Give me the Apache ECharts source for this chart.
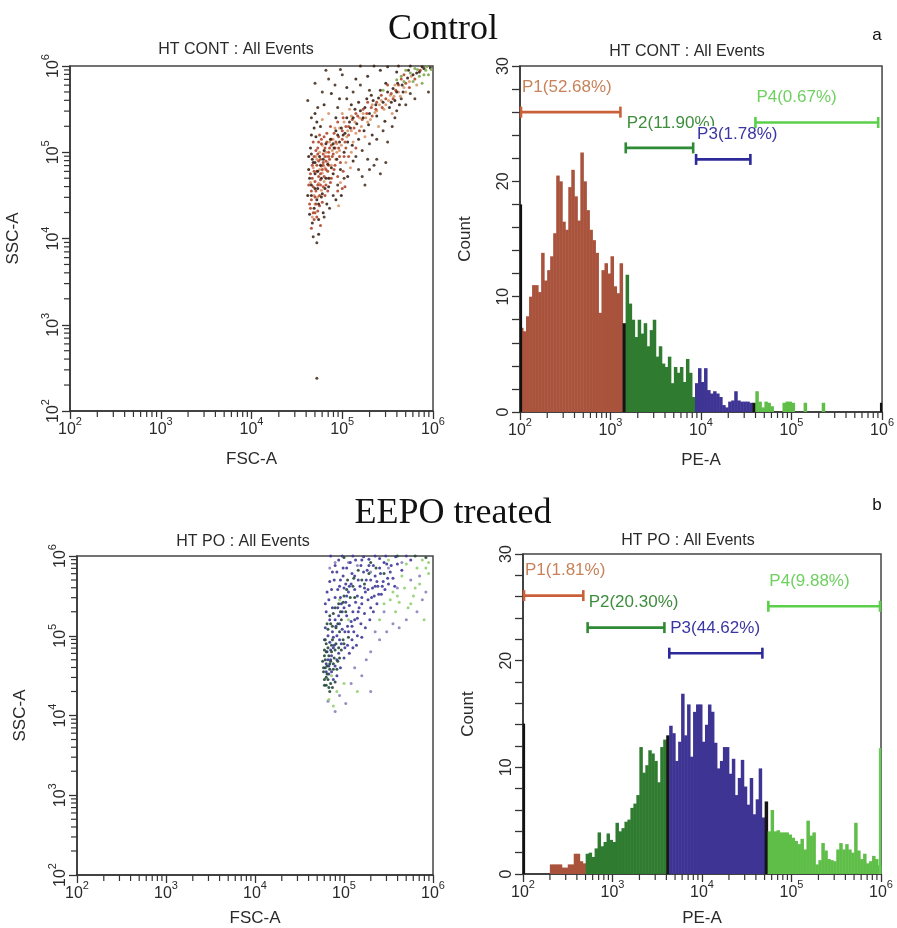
<!DOCTYPE html>
<html><head><meta charset="utf-8">
<script src="https://cdn.jsdelivr.net/npm/echarts@6/dist/echarts.min.js"></script>
<style>html,body{margin:0;padding:0;background:#fff}#c{width:897px;height:928px}</style>
</head><body><div id="c"></div>
<script>
// ---------------- DATA ----------------
const decadeExponents = [2, 3, 4, 5, 6];
const minorMultipliers = [2, 3, 4, 5, 6, 7, 8, 9];
const countTicks = [0, 10, 20, 30];
const binsPerDecade = 30;

// Control (HT CONT) PE-A histogram, 30 bins per decade from 10^2
const ctlCounts = [
 7.3,7.0,8.3,10.0,11.0,11.0,10.4,13.8,11.4,12.3,
 13.5,15.5,20.5,20.0,16.5,15.8,19.5,21.0,18.7,16.6,
 22.5,20.0,17.5,15.8,14.9,13.8,8.6,12.3,12.9,12.0,
 13.5,10.9,10.3,12.9,7.7,11.9,9.4,8.0,6.5,8.0,
 6.8,7.7,5.7,7.1,8.0,4.8,5.7,4.2,3.9,4.8,
 2.5,3.9,3.4,3.9,2.6,4.6,3.4,1.3,2.5,3.8,
 2.6,3.8,1.9,1.6,1.8,1.6,1.3,0.6,0.4,0.9,
 1.0,1.8,1.0,0.9,0.9,0.9,0.8,0.8,1.8,0.9,
 0.4,0.9,0.8,0.5,0,0,0,0.8,0.9,0.9,
 0.8,0,0,0,0.8,0,0,0,0,0,
 0.8,0,0,0,0,0,0,0,0,0,
 0,0,0,0,0,0,0,0,0,0
];
// EEPO treated (HT PO) PE-A histogram
const poCounts = [
 0,0,0,0,0,0,0,0,0,0.9,
 0.9,0.9,0.9,0.6,0.6,0.9,0.9,1.9,1.9,1.2,
 1.0,1.9,2.0,1.6,2.4,3.9,2.6,3.0,3.8,3.2,
 3.0,4.8,4.0,4.3,4.9,5.1,6.2,6.6,7.4,11.9,
 9.5,10.2,11.6,11.3,10.6,8.6,11.9,12.6,13.0,13.9,
 13.2,10.6,12.4,16.9,13.0,15.9,11.0,15.2,15.9,15.9,
 12.4,14.0,15.9,15.2,12.3,9.9,10.6,11.9,11.9,9.4,
 10.8,7.4,9.0,10.7,8.2,6.5,9.0,5.6,7.0,9.9,
 5.3,6.8,4.0,6.0,4.0,4.1,3.9,3.9,3.9,3.7,
 3.4,3.1,2.8,3.3,2.3,5.0,3.6,3.9,0.9,1.3,
 2.9,2.2,1.4,1.3,1.2,2.3,2.9,2.3,2.8,2.3,
 2.0,4.8,2.2,1.4,1.9,1.0,1.2,1.7,1.4,0.8
];
// off-scale events piled at the axis edges [at 10^2, at 10^6]
const ctlEdgeCounts = [18.0, 0.8];
const poEdgeCounts = [14.1, 11.8];

// Gates
const gateNames = ['P1', 'P2', 'P3', 'P4'];
const ctlGatePct = ['52.68%', '11.90%', '1.78%', '0.67%'];
const ctlGateLo = [100, 1436, 8600, 38900];
const ctlGateHi = [1320, 8400, 36000, 930000];
const ctlGateLevel = [26.0, 22.9, 21.9, 25.1];
const poGatePct = ['1.81%', '20.30%', '44.62%', '9.88%'];
const poGateLo = [100, 514, 4200, 53700];
const poGateHi = [484, 3900, 48500, 1000000];
const poGateLevel = [26.1, 23.1, 20.7, 25.1];

// Scatter events, [log10 FSC-A, log10 SSC-A]
const ctlDarkEvents = [[4.66,4.62],[4.70,4.75],[4.73,4.58],[4.68,4.88],[4.75,4.95],[4.80,5.02],[4.84,4.86],[4.77,4.70],[4.72,4.45],[4.69,4.35],[4.82,5.10],[4.87,5.15],[4.91,5.05],[4.95,5.20],[4.99,5.28],[5.03,5.22],[5.08,5.35],[5.12,5.40],[5.16,5.33],[5.20,5.48],[5.25,5.52],[5.30,5.45],[5.34,5.60],[5.40,5.63],[5.45,5.58],[5.50,5.70],[5.56,5.74],[5.61,5.80],[5.66,5.78],[5.72,5.86],[5.78,5.90],[5.85,5.93],[5.90,5.97],[4.64,4.28],[4.67,4.18],[4.74,4.22],[4.62,4.50],[4.65,5.05],[4.71,5.18],[4.76,5.30],[4.70,5.45],[4.80,5.55],[4.88,5.68],[4.93,5.40],[4.97,5.62],[5.05,5.75],[5.10,5.55],[5.15,5.85],[4.85,4.60],[4.90,4.75],[4.94,4.92],[4.98,4.80],[5.02,5.00],[5.06,5.12],[5.11,5.08],[5.18,5.15],[5.24,5.25],[5.29,5.32],[5.33,5.20],[5.38,5.42],[5.47,5.36],[5.52,5.52],[5.58,5.60],[5.63,5.55],[4.63,4.80],[4.66,4.98],[4.78,4.52],[4.83,4.40],[4.74,4.05],[4.79,4.30],[5.20,6.00],[5.35,6.00],[5.50,5.99],[5.62,6.00],[5.75,6.00],[5.88,5.99],[5.97,5.98],[5.42,5.95],[5.28,5.88],[5.60,5.93],
 [4.64,4.70],[4.67,4.92],[4.70,4.88],[4.73,4.78],[4.76,4.85],[4.79,4.92],[4.82,4.70],[4.85,4.70],[4.88,4.82],[4.90,5.10],[4.93,5.25],[4.97,5.12],[5.01,5.20],[5.05,5.40],[5.09,5.28],[5.14,5.50],[5.18,5.58],[5.23,5.40],[5.27,5.62],[5.32,5.66],[5.37,5.55],[5.42,5.72],[5.48,5.80],[5.54,5.58],[5.60,5.70],[5.67,5.70],[5.73,5.95],[5.82,5.92],[4.66,4.50],[4.70,4.58],[4.74,4.40],[4.77,4.48],[4.81,4.58],[4.63,4.95],[4.66,5.20],[4.69,5.28],[4.72,5.35],
 [4.99,4.50],[5.06,4.72],[4.93,4.45],[5.12,4.90]];
const ctlRedEvents = [[4.72,4.85],[4.76,4.92],[4.79,4.98],[4.82,4.90],[4.78,4.80],[4.74,4.72],[4.70,4.66],[4.81,5.05],[4.85,5.00],[4.88,5.08],[4.73,4.98],[4.69,4.78],[4.67,4.70],[4.76,4.62],[4.80,4.72],[4.84,4.78],[4.86,4.92],[4.90,4.98],[4.93,5.12],[4.96,5.05],[5.00,5.15],[5.04,5.30],[5.07,5.20],[5.13,5.28],[5.17,5.42],[5.22,5.38],[5.27,5.45],[5.32,5.52],[5.37,5.50],[5.43,5.66],[5.48,5.62],[5.54,5.68],[5.59,5.72],[5.65,5.85],[5.70,5.80],[4.75,4.50],[4.71,4.55],[4.66,4.45],[4.70,4.30],[4.64,4.40],[4.77,5.10],[4.73,5.05],[4.68,5.12],[4.83,5.22],[4.75,5.20],[4.87,5.30],[4.91,5.22],[4.95,5.35],[5.01,5.40],[4.82,4.62],[4.88,4.70],[4.92,4.85],[4.97,4.95],[5.04,5.05],[4.79,4.88],[4.77,4.84],[4.81,4.95],[4.74,4.90],[4.85,4.85],[4.72,4.78],[4.76,4.68],[4.79,4.60],[4.68,4.60],[4.66,4.55],[4.71,4.40],[4.73,4.32],[4.69,4.22],[4.76,4.15],[4.66,4.12],
 [4.63,4.62],[4.65,4.75],[4.67,4.85],[4.69,4.95],[4.71,5.02],[4.74,5.12],[4.77,5.15],[4.80,5.18],[4.83,5.12],[4.86,5.05],[4.89,4.95],[4.91,4.80],[4.87,4.65],[4.84,4.55],[4.81,4.50],[4.78,4.42],[4.75,4.38],[4.72,4.25],[4.68,4.30],[4.65,4.35],[4.70,4.48],[4.73,4.62],[4.76,4.75],[4.79,4.85],[4.82,4.80],[4.85,4.95],[4.88,5.15],[4.92,5.05],[4.96,5.18],[5.00,5.25],[5.03,5.12],[5.07,5.30],[5.11,5.38],[5.15,5.45],[5.19,5.25],[5.23,5.50],[5.28,5.58],[5.33,5.42],[5.38,5.58],[5.44,5.52],[5.50,5.78],[5.56,5.62],[5.62,5.78],[5.68,5.90],[5.74,5.75],[5.80,5.85],[5.86,5.95],[4.98,4.88],[5.02,4.95],[4.95,4.72],
 [4.95,4.55],[5.01,4.78],[5.07,4.95],[5.03,4.60],[5.00,4.58],[5.15,5.05]];
const ctlOrangeEvents = [[4.78,4.76],[4.83,4.95],[4.89,5.02],[4.94,5.10],[4.99,5.08],[5.05,5.18],[5.10,5.25],[5.15,5.22],[5.21,5.30],[5.26,5.40],[5.31,5.38],[5.36,5.46],[5.41,5.55],[5.46,5.50],[5.51,5.60],[5.57,5.65],[5.62,5.70],[5.68,5.75],[5.74,5.82],[4.71,4.95],[4.75,4.80],[4.81,4.82],[4.86,4.70],[4.74,4.64],[4.69,4.50],[4.86,5.12],[4.92,5.28],[5.00,5.45],[5.08,5.50],[4.85,5.45],[4.78,5.38],[5.12,5.12],[5.25,5.18],[5.40,5.30],[5.55,5.45],
 [4.65,4.65],[4.68,4.82],[4.72,4.92],[4.75,5.00],[4.78,5.08],[4.82,5.00],[4.84,4.88],[4.80,4.66],[4.77,4.56],[4.73,4.48],[4.70,4.40],[4.67,4.25],[4.90,5.15],[4.94,5.00],[4.97,5.28],[5.02,5.35],[5.06,5.25],[5.10,5.42],[5.14,5.35],[5.19,5.40],[5.23,5.45],[5.28,5.35],[5.33,5.55],[5.38,5.48],[5.43,5.60],[5.48,5.55],[5.53,5.66],[5.58,5.78],[5.64,5.65],[5.70,5.70],[5.76,5.88],[5.82,5.78],[4.88,4.85],[4.93,4.92],[4.97,5.02],
 [4.98,4.65],[5.04,4.88],[5.10,5.00],[5.09,4.82],[4.96,4.38]];
const ctlGreenEvents = [[5.70,5.95],[5.80,5.97],[5.92,5.95],[5.85,5.88],[5.75,5.92],[5.95,5.90],[5.65,5.88],[5.88,5.80],[5.98,5.96],[5.45,5.72],[5.60,5.84],[5.78,5.82],[5.90,5.90],[5.83,5.96],[5.68,5.82],[5.93,5.99]];
const ctlSparseEvents = [[4.62,5.60],[4.70,5.80],[4.78,5.70],[4.85,5.85],[4.92,5.78],[5.00,5.90],[5.05,5.62],[4.66,5.40],[4.73,5.52],[4.95,5.52],[5.12,5.70],[5.20,5.78],[5.30,5.72],[4.82,5.95],[4.98,5.96],[5.15,4.95],[5.22,5.02],[5.30,5.10],[5.38,5.15],[5.45,5.25],[5.55,5.30],[5.60,5.48],[5.70,5.55],[5.35,4.85],[5.28,4.92],[5.18,4.80],[5.50,5.12],[5.42,4.75],[5.58,5.40],[5.80,5.62],[5.75,5.68],[5.65,5.62],[5.95,5.70],[4.68,4.02],[4.72,3.95],[4.80,4.25],[4.86,4.35],[4.90,4.50],[4.95,4.62],[5.02,4.70],[4.72,2.38],
 [5.22,4.72],[5.30,4.80],[5.38,4.92],[5.48,4.88],[5.25,4.62]];

const poBlueEvents = [[4.85,4.70],[4.88,4.85],[4.92,5.00],[4.95,5.15],[4.98,5.30],[5.02,5.42],[5.05,5.55],[5.08,5.65],[5.12,5.75],[5.15,5.50],[5.18,5.62],[5.22,5.80],[5.25,5.70],[5.28,5.88],[5.32,5.60],[5.35,5.75],[5.40,5.85],[5.44,5.68],[5.48,5.90],[5.52,5.80],[4.90,5.20],[4.93,5.35],[4.96,5.48],[5.00,5.60],[5.03,5.25],[5.06,5.38],[5.10,5.30],[5.13,5.42],[5.17,5.35],[5.20,5.48],[5.24,5.55],[5.27,5.45],[5.30,5.35],[5.34,5.50],[5.38,5.62],[4.87,5.05],[4.84,4.92],[4.81,4.80],[4.86,4.55],[4.90,4.62],[4.94,4.78],[4.97,4.90],[5.01,5.05],[5.04,5.12],[5.08,5.18],[5.11,5.05],[5.15,5.22],[5.19,5.15],[4.80,5.30],[4.83,5.45],[4.86,5.58],[4.89,5.70],[4.92,5.80],[4.95,5.62],[4.99,5.75],[5.03,5.85],[5.07,5.92],[4.79,5.10],[4.82,5.00],[4.78,4.95],[4.80,4.65],[4.83,4.52],[4.88,4.45],[4.92,4.50],[4.96,4.60],[5.00,4.72],[5.04,4.88],[5.09,4.95],[5.14,4.88],[5.20,4.98],[5.24,5.10],[5.29,5.20],[5.33,5.30],[5.37,5.40],[5.42,5.52],[5.46,5.58],[5.50,5.65],[5.55,5.72],[4.85,6.00],[4.98,6.00],[5.10,6.00],[5.22,5.99],[5.35,6.00],[5.47,6.00],[5.58,5.99],[5.70,6.00],[5.20,5.95],[5.40,5.97],[5.60,5.90],[5.65,5.82],[5.75,5.95],
 [4.82,4.70],[4.85,4.82],[4.88,4.98],[4.91,5.12],[4.94,5.25],[4.97,5.40],[5.00,5.35],[5.03,5.50],[5.06,5.62],[5.09,5.78],[5.12,5.58],[5.16,5.70],[5.19,5.88],[5.23,5.60],[5.26,5.82],[5.30,5.70],[5.33,5.88],[5.37,5.68],[5.41,5.78],[5.45,5.92],[5.49,5.72],[5.53,5.88],[5.57,5.62],[4.84,5.20],[4.87,5.35],[4.90,5.48],[4.93,5.58],[4.96,5.70],[4.99,5.85],[5.02,5.65],[5.05,5.05],[5.09,5.12],[5.12,5.20],[5.16,5.30],[5.20,5.40],[5.23,5.28],[5.27,5.58],[5.31,5.48],[5.35,5.62],[5.39,5.52],[5.43,5.62],[4.80,4.55],[4.83,4.62],[4.86,4.75],[4.89,4.88],[4.92,4.70],[4.95,4.95],[4.98,5.08],[5.01,4.85],[5.06,4.78],[5.10,4.85],[5.15,5.00],[4.79,5.40],[4.81,5.55],[4.84,5.68],[4.87,5.80],[4.90,5.88],[4.94,5.95],[5.13,5.95],[5.28,5.96]];
const poDarkEvents = [[4.77,4.55],[4.79,4.70],[4.81,4.62],[4.83,4.75],[4.78,4.82],[4.80,4.90],[4.84,4.65],[4.86,4.80],[4.89,4.72],[4.91,4.90],[4.94,4.85],[4.82,5.08],[4.85,5.15],[4.88,5.28],[4.91,5.10],[4.94,5.40],[4.97,5.20],[5.00,5.50],[5.04,5.70],[5.10,5.62],[5.16,5.82],[5.23,5.65],[5.30,5.92],[4.78,4.45],[4.80,4.48],[4.85,4.40],[4.88,4.58],[4.79,4.60],[4.76,4.68],[4.82,4.85],[4.87,4.95],[4.93,4.68],[4.99,4.95],[5.05,4.98],[4.95,5.05],[5.02,5.30],[4.87,4.35],[4.84,4.30],[4.80,4.38],[5.60,6.00],[5.80,6.00],[5.92,5.98],[5.00,5.98],[5.45,5.78],[5.12,5.48],
 [4.77,4.60],[4.78,4.75],[4.80,4.80],[4.81,4.52],[4.82,4.45],[4.84,4.58],[4.85,4.68],[4.86,4.88],[4.88,4.65],[4.90,4.82],[4.92,4.58],[4.95,4.72],[4.97,4.82],[5.00,4.90],[4.79,4.95],[4.81,5.15],[4.84,5.25],[4.87,5.12],[4.90,5.35],[4.93,5.15],[4.96,5.30],[4.99,5.42],[5.03,5.58],[5.07,5.48],[5.11,5.72],[5.20,5.70],[5.28,5.78],[5.36,5.85],[4.78,4.38],[4.83,4.35],[4.90,4.42]];
const poGreenEvents = [[5.55,5.55],[5.62,5.42],[5.68,5.60],[5.72,5.35],[5.78,5.50],[5.85,5.65],[5.90,5.20],[5.58,5.30],[5.65,5.75],[5.82,5.85],[5.95,5.92],[5.88,5.95],[5.45,5.40],[5.40,5.20],[5.00,4.40],[4.88,4.12],[5.15,4.30],[5.70,5.90],[5.95,5.78],[5.50,5.95],[4.95,5.45],[5.05,5.20],[4.83,4.20],[5.60,5.50],[5.75,5.40],[5.80,5.60],[5.92,5.85],[5.52,5.45],[4.86,4.50],[4.92,4.30]];
const poSparseEvents = [[5.30,4.80],[5.40,4.95],[5.48,5.05],[5.55,5.15],[5.62,5.10],[5.70,5.20],[5.82,5.30],[5.25,4.70],[5.12,4.60],[5.20,4.50],[5.08,4.40],[4.95,4.25],[4.90,4.05],[5.02,4.15],[4.82,4.18],[5.30,4.30],[5.60,5.60],[5.75,5.70],[5.88,5.45],[5.92,5.55],[4.84,5.85],[4.90,5.92],[5.05,5.92],[5.15,5.88],[5.30,5.80],[5.50,5.85],[5.65,5.92],[5.85,5.75],[5.35,5.05],[5.45,5.30]];

// ---------------- STYLE / LAYOUT ----------------
const SANS = '"Liberation Sans", Arial, sans-serif';
const SERIF = '"Liberation Serif", "Times New Roman", serif';
const INK = '#2a2a2a';
const histFill = ['#a9533d', '#2f7c30', '#3d3493', '#5fbe48', '#151515'];
const gateLineColor = ['#c9603a', '#2f8a35', '#2c2a9a', '#5ccf4a'];
const gateLabelColor = ['#c7825a', '#3d8d3d', '#3a36a2', '#6fd060'];
const edgeColor = {ctl: ['#111', '#111'], po: ['#111', '#5fcf4f']};

const grids = [
  {left: 70, top: 66, width: 363, height: 345},
  {left: 520, top: 66, width: 363, height: 346},
  {left: 77, top: 556, width: 356, height: 321},
  {left: 523, top: 554, width: 358, height: 323}
].map(g => Object.assign({show: true, borderColor: '#444', borderWidth: 1.5, backgroundColor: '#fff'}, g));

const pow10 = v => Math.pow(10, v);
const lineStyle = {color: '#333', width: 1.5};
const rich = {
  b: {fontSize: 16, fontFamily: SANS, color: INK, lineHeight: 22, verticalAlign: 'bottom'},
  s: {fontSize: 11, fontFamily: SANS, color: INK, lineHeight: 22, verticalAlign: 'top'}
};
function logLabel(v) {
  const e = Math.round(Math.log10(v));
  return decadeExponents.indexOf(e) >= 0 ? '{b|10}{s|' + e + '}' : '';
}
function logAxis(gridIndex, extra) {
  return Object.assign({
    type: 'log', logBase: 10, min: pow10(decadeExponents[0]), max: pow10(decadeExponents[decadeExponents.length - 1]),
    splitNumber: 4, gridIndex,
    axisLine: {show: true, onZero: false, lineStyle},
    axisTick: {show: true, inside: false, length: 8, lineStyle: {color: '#333', width: 1.3}},
    minorTick: {show: false}, splitLine: {show: false},
    axisLabel: {formatter: logLabel, rich, margin: 5, showMinLabel: true, showMaxLabel: true},
    nameLocation: 'middle', nameTextStyle: {fontSize: 17, fontFamily: SANS, color: INK}
  }, extra);
}
function countAxis(gridIndex) {
  return {
    type: 'value', gridIndex, min: countTicks[0], max: countTicks[countTicks.length - 1], interval: 10,
    name: 'Count', nameLocation: 'middle', nameGap: 46,
    nameTextStyle: {fontSize: 17, fontFamily: SANS, color: INK},
    axisLine: {show: true, onZero: false, lineStyle},
    axisTick: {show: true, length: 8, lineStyle: {color: '#333', width: 1.3}},
    minorTick: {show: true, splitNumber: 5, length: 8, lineStyle: {color: '#333', width: 1.3}},
    splitLine: {show: false},
    axisLabel: {rotate: 90, fontSize: 16, fontFamily: SANS, color: INK, margin: 8}
  };
}

// minor log ticks (2..9 x each decade)
const minorValues = [];
decadeExponents.slice(0, -1).forEach(e => minorMultipliers.forEach(m => minorValues.push(m * pow10(e))));

function minorTickSeries(idx, dir, ref) {
  return {
    type: 'custom', xAxisIndex: idx, yAxisIndex: idx, silent: true, z: 5,
    data: minorValues.map(v => dir === 'x' ? [v, ref] : [ref, v]),
    renderItem(params, api) {
      const p = api.coord([api.value(0), api.value(1)]);
      const shape = dir === 'x' ? {x1: p[0], y1: p[1], x2: p[0], y2: p[1] + 6} : {x1: p[0], y1: p[1], x2: p[0] - 6, y2: p[1]};
      return {type: 'line', shape, style: {stroke: '#333', lineWidth: 1.2}};
    }
  };
}

function gateOf(v, lo, hi) {
  for (let g = 0; g < lo.length; g++) if (v >= lo[g] && v <= hi[g]) return g;
  return 4;
}
function histSeries(idx, counts, lo, hi) {
  const data = counts.map((c, i) => {
    const a = pow10(2 + i / binsPerDecade), b = pow10(2 + (i + 1) / binsPerDecade);
    const mid = pow10(2 + (i + 0.5) / binsPerDecade);
    return [a, b, c, gateOf(mid, lo, hi)];
  });
  return {
    type: 'custom', xAxisIndex: idx, yAxisIndex: idx, silent: true, z: 2,
    encode: {x: [0, 1], y: 2}, data,
    renderItem(params, api) {
      const c = api.value(2);
      if (!(c > 0)) return null;
      const p0 = api.coord([api.value(0), 0]), p1 = api.coord([api.value(1), c]);
      return {type: 'rect', shape: {x: p0[0], y: p1[1], width: p1[0] - p0[0] + 0.5, height: p0[1] - p1[1]},
              style: {fill: histFill[api.value(3)]}};
    }
  };
}
function edgeSeries(idx, counts, colors) {
  return {
    type: 'custom', xAxisIndex: idx, yAxisIndex: idx, silent: true, z: 3,
    encode: {x: 0, y: 1},
    data: [[pow10(decadeExponents[0]), counts[0], 0], [pow10(decadeExponents[decadeExponents.length - 1]), counts[1], 1]],
    renderItem(params, api) {
      const p0 = api.coord([api.value(0), 0]), p1 = api.coord([api.value(0), api.value(1)]);
      const dx = api.value(2) === 0 ? 1 : -1;
      return {type: 'line', shape: {x1: p0[0] + dx, y1: p0[1], x2: p1[0] + dx, y2: p1[1]},
              style: {stroke: colors[api.value(2)], lineWidth: 2.2}};
    }
  };
}
function gateSeries(idx, lo, hi, level, pct) {
  return {
    type: 'custom', xAxisIndex: idx, yAxisIndex: idx, silent: true, z: 6,
    encode: {x: [0, 1], y: 2},
    data: lo.map((l, g) => [l, hi[g], level[g], g]),
    renderItem(params, api) {
      const g = api.value(3);
      const a = api.coord([api.value(0), api.value(2)]), b = api.coord([api.value(1), api.value(2)]);
      const st = {stroke: gateLineColor[g], lineWidth: 2.6};
      return {type: 'group', children: [
        {type: 'line', shape: {x1: a[0] + 1, y1: a[1], x2: b[0] - 1, y2: b[1]}, style: st},
        {type: 'line', shape: {x1: a[0] + 1, y1: a[1] - 5.5, x2: a[0] + 1, y2: a[1] + 5.5}, style: st},
        {type: 'line', shape: {x1: b[0] - 1, y1: b[1] - 5.5, x2: b[0] - 1, y2: b[1] + 5.5}, style: st},
        {type: 'text', x: a[0] + 1, y: a[1] - 25,
         style: {text: gateNames[g] + '(' + pct[g] + ')', fill: gateLabelColor[g], font: '17px ' + SANS,
                 align: 'left', verticalAlign: 'middle', backgroundColor: '#fff', padding: [0, 1, 0, 1]}}
      ]};
    }
  };
}
function scatter(idx, events, color, size) {
  return {type: 'scatter', xAxisIndex: idx, yAxisIndex: idx, silent: true, z: 3,
          symbol: 'circle', symbolSize: size || 3, itemStyle: {color, opacity: 0.9},
          data: events.map(p => [pow10(p[0]), pow10(p[1])])};
}

const scatterY = (idx) => logAxis(idx, {name: 'SSC-A', nameGap: 48,
  axisLabel: {formatter: logLabel, rich, rotate: 90, margin: 8, showMinLabel: true, showMaxLabel: true}});

const option = {
  animation: false,
  backgroundColor: '#fff',
  grid: grids,
  xAxis: [
    logAxis(0, {name: 'FSC-A', nameGap: 40}),
    logAxis(1, {name: 'PE-A', nameGap: 40}),
    logAxis(2, {name: 'FSC-A', nameGap: 35}),
    logAxis(3, {name: 'PE-A', nameGap: 36})
  ],
  yAxis: [scatterY(0), countAxis(1), scatterY(2), countAxis(3)],
  graphic: [
    {type: 'text', x: 443, y: 30, style: {text: 'Control', font: '36px ' + SERIF, fill: '#111', align: 'center', verticalAlign: 'middle'}},
    {type: 'text', x: 453, y: 514, style: {text: 'EEPO treated', font: '36px ' + SERIF, fill: '#111', align: 'center', verticalAlign: 'middle'}},
    {type: 'text', x: 877, y: 35, style: {text: 'a', font: '17px ' + SANS, fill: '#111', align: 'center', verticalAlign: 'middle'}},
    {type: 'text', x: 877, y: 505, style: {text: 'b', font: '17px ' + SANS, fill: '#111', align: 'center', verticalAlign: 'middle'}},
    {type: 'text', x: 236, y: 50, style: {text: 'HT CONT : All Events', font: '16px ' + SANS, fill: INK, align: 'center', verticalAlign: 'middle'}},
    {type: 'text', x: 687, y: 52, style: {text: 'HT CONT : All Events', font: '16px ' + SANS, fill: INK, align: 'center', verticalAlign: 'middle'}},
    {type: 'text', x: 243, y: 542, style: {text: 'HT PO : All Events', font: '16px ' + SANS, fill: INK, align: 'center', verticalAlign: 'middle'}},
    {type: 'text', x: 688, y: 541, style: {text: 'HT PO : All Events', font: '16px ' + SANS, fill: INK, align: 'center', verticalAlign: 'middle'}}
  ],
  series: [
    minorTickSeries(0, 'x', 100), minorTickSeries(0, 'y', 100),
    minorTickSeries(1, 'x', 0),
    minorTickSeries(2, 'x', 100), minorTickSeries(2, 'y', 100),
    minorTickSeries(3, 'x', 0),
    scatter(0, ctlOrangeEvents, '#d8976a'),
    scatter(0, ctlRedEvents, '#b4462c'),
    scatter(0, ctlDarkEvents, '#3b2418'),
    scatter(0, ctlSparseEvents, '#4a3526'),
    scatter(0, ctlGreenEvents, '#7da94c'),
    scatter(2, poSparseEvents, '#8a82b8'),
    scatter(2, poGreenEvents, '#92cf72'),
    scatter(2, poBlueEvents, '#3d3898'),
    scatter(2, poDarkEvents, '#22493a'),
    histSeries(1, ctlCounts, ctlGateLo, ctlGateHi),
    edgeSeries(1, ctlEdgeCounts, edgeColor.ctl),
    gateSeries(1, ctlGateLo, ctlGateHi, ctlGateLevel, ctlGatePct),
    histSeries(3, poCounts, poGateLo, poGateHi),
    edgeSeries(3, poEdgeCounts, edgeColor.po),
    gateSeries(3, poGateLo, poGateHi, poGateLevel, poGatePct)
  ]
};
const chart = echarts.init(document.getElementById('c'), null, {renderer: 'canvas'});
chart.setOption(option);
</script>
</body></html>
